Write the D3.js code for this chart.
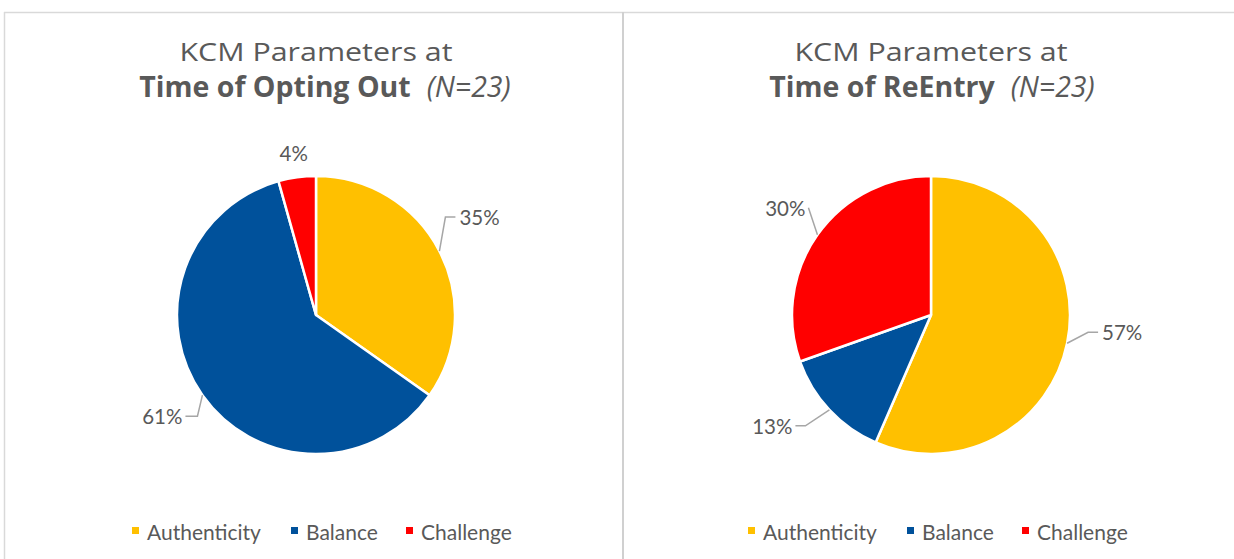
<!DOCTYPE html>
<html><head><meta charset="utf-8">
<script src="https://cdn.jsdelivr.net/npm/d3@7"></script>
<style>
html,body{margin:0;padding:0;background:#fff;}
svg{display:block;}
</style></head>
<body>
<svg id="chart" width="1234" height="559"></svg>
<script>
// ---- data ----
const categories = ["Authenticity", "Balance", "Challenge"];
const optingOutCounts = [8, 14, 1];   // 35%, 61%, 4% of N=23
const reEntryCounts = [13, 3, 7];     // 57%, 13%, 30% of N=23
const titleLine1 = "KCM Parameters at";
const titleBoldLeft = "Time of Opting Out";
const titleBoldRight = "Time of ReEntry";
const titleN = "(N=23)";
const colors = ["#FFC000", "#00519B", "#FF0000"];

// ---- layout / label style (not data) ----
const panels = [
  {counts: optingOutCounts, bold: titleBoldLeft, cx: 316, cy: 315, r: 139, tx: 316, tx2: 325,
   legendX: 132,
   leaders: [ {elbow:[6,-34], end:[10,0], anchor:"start"},
              {elbow:[-5,21], end:[-12,0], anchor:"end"},
              {plain:true, dist:25} ]},
  {counts: reEntryCounts, bold: titleBoldRight, cx: 931, cy: 315, r: 139, tx: 931, tx2: 932,
   legendX: 748,
   leaders: [ {elbow:[21,-11], end:[10,0], anchor:"start"},
              {elbow:[-24,16], end:[-10,0], anchor:"end"},
              {elbow:[-9,-27], end:[0,0], anchor:"end"} ]}
];

const svg = d3.select("#chart");
const textColor = "#595959";
const fontFam = "Lato, 'Open Sans', sans-serif";

// frame
svg.append("line").attr("x1",4).attr("x2",1234).attr("y1",12.5).attr("y2",12.5).attr("stroke","#d9d9d9").attr("stroke-width",1.5);
svg.append("line").attr("x1",4.5).attr("x2",4.5).attr("y1",12).attr("y2",559).attr("stroke","#d9d9d9").attr("stroke-width",1.5);
svg.append("line").attr("x1",623).attr("x2",623).attr("y1",12).attr("y2",559).attr("stroke","#d0d0d0").attr("stroke-width",2);

const pie = d3.pie().sort(null).value(d => d);
const fmt = d3.format(".0%");

panels.forEach(p => {
  const g = svg.append("g");
  // titles
  g.append("text").attr("x", p.tx).attr("y", 61).attr("text-anchor","middle")
    .attr("font-family","'Open Sans', sans-serif").attr("font-size",26).attr("fill",textColor)
    .attr("textLength", 273).attr("lengthAdjust","spacingAndGlyphs")
    .text(titleLine1);
  const t2 = g.append("text").attr("x", p.tx2).attr("y", 97).attr("text-anchor","middle")
    .attr("font-family","'Open Sans', sans-serif").attr("font-size",28.5).attr("fill",textColor);
  t2.append("tspan").attr("font-weight","bold").text(p.bold);
  t2.append("tspan").attr("font-style","italic").attr("dx",16).text(titleN);

  const total = d3.sum(p.counts);
  const arcs = pie(p.counts);
  const arc = d3.arc().innerRadius(0).outerRadius(p.r);
  const pg = g.append("g").attr("transform", `translate(${p.cx},${p.cy})`);
  pg.selectAll("path.slice").data(arcs).join("path").attr("class","slice")
    .attr("d", arc).attr("fill", (d,i) => colors[i])
    .attr("stroke","#fff").attr("stroke-width",2.5).attr("stroke-linejoin","round");

  arcs.forEach((a, i) => {
    const mid = (a.startAngle + a.endAngle)/2;
    const ex = Math.sin(mid)*p.r, ey = -Math.cos(mid)*p.r;
    const L = p.leaders[i];
    const label = fmt(p.counts[i]/total);
    if (L.plain) {
      const rr = p.r + L.dist;
      pg.append("text").attr("x", Math.sin(mid)*rr).attr("y", -Math.cos(mid)*rr)
        .attr("text-anchor","middle").attr("dominant-baseline","central")
        .attr("font-family",fontFam).attr("font-size",20.5).attr("fill",textColor).text(label);
      return;
    }
    const bx = ex + L.elbow[0], by = ey + L.elbow[1];
    const cx2 = bx + L.end[0], cy2 = by + L.end[1];
    pg.append("polyline").attr("points", `${ex},${ey} ${bx},${by} ${cx2},${cy2}`)
      .attr("fill","none").attr("stroke","#a6a6a6").attr("stroke-width",1.5);
    pg.append("text").attr("x", cx2 + (L.anchor==="start"?4:-3)).attr("y", cy2)
      .attr("text-anchor", L.anchor).attr("dominant-baseline","central")
      .attr("font-family",fontFam).attr("font-size",20.5).attr("fill",textColor).text(label);
  });

  // legend
  const lg = g.append("g").attr("transform", `translate(${p.legendX},531)`);
  const offs = [0, 159, 274];
  categories.forEach((c, i) => {
    lg.append("rect").attr("x", offs[i]).attr("y",-4).attr("width",7).attr("height",7).attr("fill",colors[i]);
    lg.append("text").attr("x", offs[i]+15).attr("y", 0).attr("dominant-baseline","central")
      .attr("font-family",fontFam).attr("font-size",21).attr("fill",textColor).text(c);
  });
});
</script>
</body></html>
